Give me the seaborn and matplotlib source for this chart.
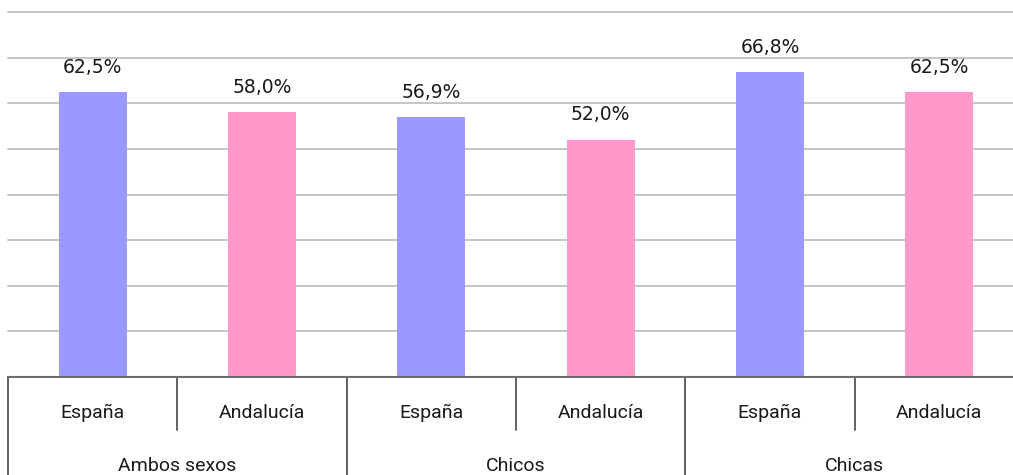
import matplotlib
matplotlib.use("Agg")
import matplotlib.pyplot as plt
import matplotlib.transforms as mtransforms
import pandas as pd
import seaborn as sns

# data
groups = ["Ambos sexos", "Ambos sexos", "Chicos", "Chicos", "Chicas", "Chicas"]
regions = ["España", "Andalucía", "España", "Andalucía", "España", "Andalucía"]
values = [62.5, 58.0, 56.9, 52.0, 66.8, 62.5]
groupNames = ["Ambos sexos", "Chicos", "Chicas"]

colours = {"España": "#9999FF", "Andalucía": "#FF99CC"}


def fmtPct(v):
    return f"{v:.1f}".replace(".", ",") + "%"


def main():
    sns.set_theme(style="white")
    plt.rcParams["font.family"] = ["DejaVu Sans"]

    df = pd.DataFrame({"group": groups, "region": regions, "value": values})
    df["slot"] = [f"{g}|{r}" for g, r in zip(groups, regions)]

    fig = plt.figure(figsize=(10.13, 4.75), dpi=100)
    # axes runs a little past the right edge of the figure, like the original
    ax = fig.add_axes([8 / 1013, 98 / 475, 1016 / 1013, 1 - 12 / 475 - 98 / 475])

    sns.barplot(data=df, x="slot", y="value", hue="region", palette=colours,
                dodge=False, width=0.4, saturation=1, legend=False, linewidth=0, ax=ax)

    ax.set_ylim(0, 80)
    ax.set_xlim(-0.5, 5.5)
    ax.set_yticks(range(10, 81, 10))
    ax.yaxis.grid(True, color="#c0c0c0", linewidth=1.3)
    for line in ax.get_ygridlines():
        line.set_clip_on(False)
    ax.set_axisbelow(True)
    ax.set_yticklabels([])
    ax.set_xticks([])
    ax.set_xlabel("")
    ax.set_ylabel("")
    ax.tick_params(left=False, bottom=False)
    for side in ["left", "right", "top"]:
        ax.spines[side].set_visible(False)
    ax.spines["bottom"].set_color("#6e6e6e")
    ax.spines["bottom"].set_linewidth(1.5)

    # value labels
    for i, v in enumerate(values):
        ax.annotate(fmtPct(v), (i, v), xytext=(0, 11), textcoords="offset points",
                    ha="center", va="bottom", fontsize=13.5, color="#1a1a1a")

    # category table below the axis
    trans = mtransforms.blended_transform_factory(ax.transData, ax.transAxes)
    axH = ax.get_position().height * 475
    rowLow = -53 / axH
    figBottom = -100 / axH
    for i, r in enumerate(regions):
        ax.text(i, -36 / axH, r, transform=trans, ha="center", va="center",
                fontsize=14, color="#1a1a1a", family=["Roboto", "DejaVu Sans"])
    for j, g in enumerate(groupNames):
        ax.text(2 * j + 0.5, -89 / axH, g, transform=trans, ha="center", va="center",
                fontsize=14, color="#1a1a1a", family=["Roboto", "DejaVu Sans"])

    for x in [0.5, 2.5, 4.5]:
        ax.plot([x, x], [0, rowLow], transform=trans, color="#555555", lw=1.3, clip_on=False)
    for x in [-0.5, 1.5, 3.5]:
        ax.plot([x, x], [0, figBottom], transform=trans, color="#555555", lw=1.3, clip_on=False)

    fig.savefig("out.png", dpi=100)
    plt.close(fig)


if __name__ == "__main__":
    main()
